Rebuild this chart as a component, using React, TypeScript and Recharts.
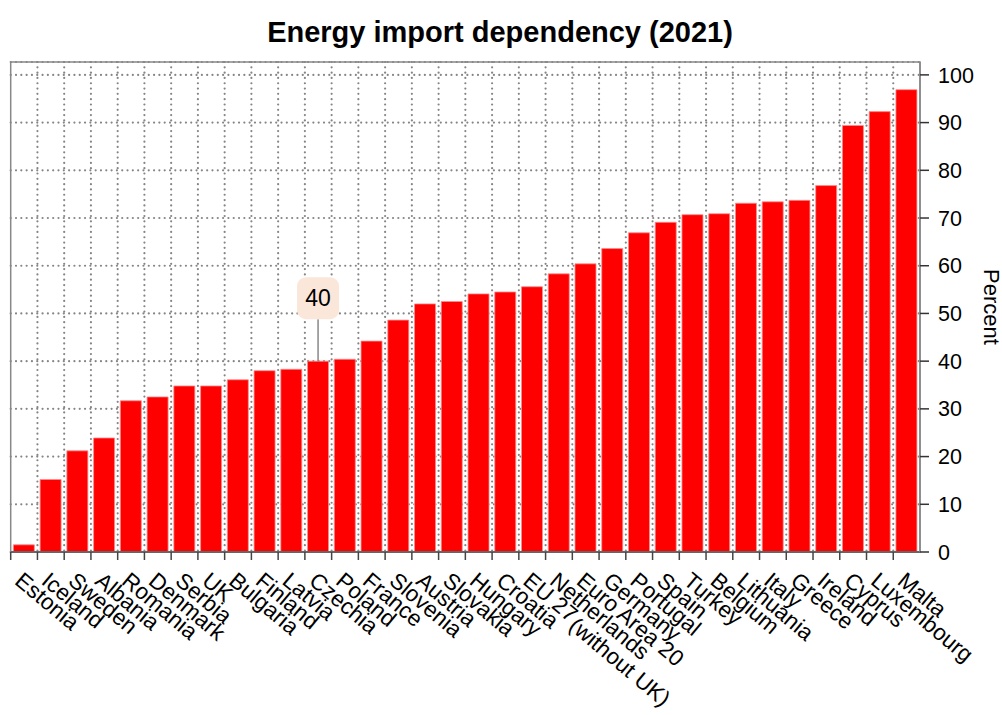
import React from 'react';
import {
  BarChart, Bar, XAxis, YAxis, CartesianGrid, ReferenceArea, LabelList,
} from 'recharts';

/* ——— Data ——— */
const countries = [
  'Estonia', 'Iceland', 'Sweden', 'Albania', 'Romania', 'Denmark', 'Serbia', 'UK',
  'Bulgaria', 'Finland', 'Latvia', 'Czechia', 'Poland', 'France', 'Slovenia', 'Austria',
  'Slovakia', 'Hungary', 'Croatia', 'EU 27\n(without UK)', 'Netherlands', 'Euro Area 20',
  'Germany', 'Portugal', 'Spain', 'Turkey', 'Belgium', 'Lithuania', 'Italy', 'Greece',
  'Ireland', 'Cyprus', 'Luxembourg', 'Malta',
];

const dependency = [
  1.5, 15.2, 21.2, 23.9, 31.7, 32.5, 34.8, 34.8,
  36.1, 38.0, 38.3, 40.0, 40.4, 44.2, 48.6, 52.0,
  52.5, 54.1, 54.5, 55.6, 58.3, 60.4,
  63.6, 66.9, 69.1, 70.7, 70.9, 73.1, 73.4, 73.7,
  76.8, 89.4, 92.3, 96.9,
];

const yTicks = [0, 10, 20, 30, 40, 50, 60, 70, 80, 90, 100];
const Y_MAX = 102.7;
const HIGHLIGHT = 'Czechia';

const data = countries.map((name, i) => ({ name, value: dependency[i] }));

/* ——— Layout ——— */
const W = 1002;
const H = 715;
const MARGIN = { top: 62, right: 22, bottom: 0, left: 10.7 };
const Y_AXIS_W = 60;
const X_AXIS_H = 163;
const PLOT_W = W - MARGIN.left - MARGIN.right - Y_AXIS_W;
const BAND = PLOT_W / countries.length;
const FONT = "'Liberation Sans', Arial, Helvetica, sans-serif";
const GRID = '#858585';

/* ——— Category tick: boundary tick line + rotated label ——— */
function CountryTick(props: any) {
  const { x, y, payload } = props;
  const left = x - BAND / 2;
  const [first, second] = String(payload.value).split('\n');
  return (
    <g>
      <line x1={left} x2={left} y1={y} y2={y + 8} stroke="#444" strokeWidth={1.5} />
      <text
        transform={`translate(${x - 10.5},${y + 31}) rotate(40)`}
        fontSize={22.5}
        fontFamily={FONT}
        fill="#000"
        textAnchor="start"
      >
        <tspan x={0} y={0}>{first}</tspan>
        {second && <tspan x={64} y={5}>{second}</tspan>}
      </text>
    </g>
  );
}

/* ——— Callout above the highlighted bar ——— */
function Callout(props: any) {
  const { x, y, width, value } = props;
  if (value !== HIGHLIGHT) return null;
  const cx = x + width / 2;
  const boxBottom = y - 42;
  const v = dependency[countries.indexOf(HIGHLIGHT)];
  return (
    <g>
      <line x1={cx} x2={cx} y1={boxBottom} y2={y} stroke="#888" strokeWidth={1.5} />
      <rect x={cx - 21} y={boxBottom - 42} width={42} height={42} rx={9} fill="#fbe7d9" />
      <text x={cx} y={boxBottom - 13} textAnchor="middle" fontSize={23} fontFamily={FONT} fill="#000">
        {Math.round(v)}
      </text>
    </g>
  );
}

function PercentLabel(props: any) {
  const { viewBox } = props;
  const cx = viewBox.x + viewBox.width + 11;
  const cy = viewBox.y + viewBox.height / 2;
  return (
    <text
      transform={`translate(${cx},${cy}) rotate(90)`}
      textAnchor="middle"
      dominantBaseline="central"
      fontSize={22}
      fontFamily={FONT}
      fill="#000"
    >
      Percent
    </text>
  );
}

export default function App() {
  return (
    <div style={{ position: 'absolute', left: 0, top: 0, width: W, height: H, background: '#fff' }}>
      <svg width={W} height={60} style={{ position: 'absolute', left: 0, top: 0 }}>
        <text x={500} y={42} textAnchor="middle" fontSize={29} fontWeight="bold" fontFamily={FONT} fill="#000">
          Energy import dependency (2021)
        </text>
      </svg>
      <div style={{ position: 'absolute', left: 0, top: 0 }}>
        <BarChart width={W} height={H} data={data} margin={MARGIN} barCategoryGap="10%">
          <CartesianGrid
            stroke={GRID}
            strokeWidth={2.2}
            strokeDasharray="0.01 5.3"
            strokeLinecap="round"
            yAxisId="pct"
            verticalCoordinatesGenerator={({ offset }: any) =>
              countries.slice(1).map((_, i) => offset.left + (i + 1) * (offset.width / countries.length))
            }
          />
          <XAxis
            dataKey="name"
            height={X_AXIS_H}
            interval={0}
            tickSize={0}
            tickMargin={0}
            tickLine={false}
            axisLine={{ stroke: '#666', strokeWidth: 2 }}
            tick={<CountryTick />}
          />
          <YAxis
            yAxisId="pct"
            orientation="right"
            width={Y_AXIS_W}
            domain={[0, Y_MAX]}
            ticks={yTicks}
            allowDataOverflow
            tickSize={9}
            tickMargin={9}
            axisLine={{ stroke: '#888', strokeWidth: 1.5 }}
            tickLine={{ stroke: '#333', strokeWidth: 1.5 }}
            tick={{ fontSize: 21.5, fill: '#000', fontFamily: FONT, textAnchor: 'start' }}
            label={<PercentLabel />}
          />
          <ReferenceArea yAxisId="pct" y1={0} y2={Y_MAX} fill="none" stroke="#888" strokeWidth={1.5} />
          <Bar
            yAxisId="pct"
            dataKey="value"
            fill="#ff0000"
            stroke="#ff8c8c"
            strokeWidth={0.8}
            isAnimationActive={false}
          >
            <LabelList dataKey="name" content={<Callout />} />
          </Bar>
        </BarChart>
      </div>
    </div>
  );
}
